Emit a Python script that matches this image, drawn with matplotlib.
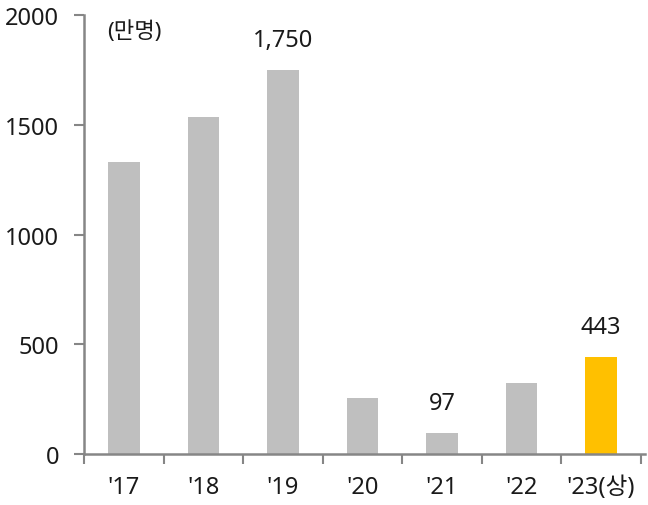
import matplotlib
matplotlib.use("Agg")
import matplotlib.pyplot as plt
import numpy as np

plt.rcParams['font.family'] = ['Noto Sans', 'Noto Sans CJK KR', 'DejaVu Sans']

years = ["'17", "'18", "'19", "'20", "'21", "'22", "'23(상)"]
visitors = [1330, 1535, 1750, 255, 97, 322, 443]
labelled = {2: "1,750", 4: "97", 6: "443"}

grey = '#bfbfbf'
gold = '#ffc000'
axis_col = '#868686'
txt_col = '#1a1a1a'
fs = 17

fig = plt.figure(figsize=(6.48, 5.06), dpi=100)
ax = fig.add_axes([0.13, 0.101, 0.865, 0.867])

x = np.arange(len(years))
colors = [grey] * (len(years) - 1) + [gold]
ax.bar(x, visitors, width=0.4, color=colors, zorder=2)

for i, txt in labelled.items():
    ax.text(x[i], visitors[i] + 80, txt, ha='center', va='bottom',
            fontsize=fs, color=txt_col)

ax.text(0.13, 1975, '(만명)', ha='center', va='top', fontsize=fs - 1, color=txt_col)

ax.set_xlim(-0.5, 6.55)
ax.set_ylim(0, 2000)
ax.set_yticks([0, 500, 1000, 1500, 2000])
ax.set_xticks(x)
ax.set_xticklabels(years)
ax.set_xticks(np.arange(-0.5, 7, 1), minor=True)
ax.tick_params(axis='x', which='major', length=0, pad=15, labelsize=fs, labelcolor=txt_col)
ax.tick_params(axis='x', which='minor', length=7, width=1.5, color=axis_col, direction='out')
ax.tick_params(axis='y', length=7, width=1.5, color=axis_col, labelsize=fs,
               labelcolor=txt_col, pad=11)

for side in ['top', 'right']:
    ax.spines[side].set_visible(False)
for side in ['left', 'bottom']:
    ax.spines[side].set_color(axis_col)
    ax.spines[side].set_linewidth(1.8)

fig.savefig('out.png', dpi=100)
